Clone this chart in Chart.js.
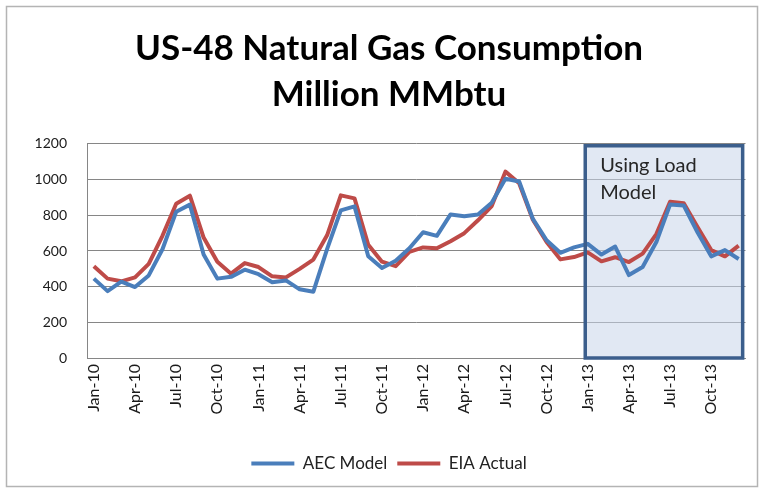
<!DOCTYPE html>
<html><head><meta charset="utf-8">
<script src="https://cdn.jsdelivr.net/npm/chart.js@4"></script>
<style>html,body{margin:0;padding:0;background:#fff}#wrap{width:764px;height:493px}</style>
</head><body><div id="wrap"><canvas id="c" width="764" height="493"></canvas></div>
<script>
const categories = [
 'Jan-10','Feb-10','Mar-10','Apr-10','May-10','Jun-10','Jul-10','Aug-10','Sep-10','Oct-10','Nov-10','Dec-10',
 'Jan-11','Feb-11','Mar-11','Apr-11','May-11','Jun-11','Jul-11','Aug-11','Sep-11','Oct-11','Nov-11','Dec-11',
 'Jan-12','Feb-12','Mar-12','Apr-12','May-12','Jun-12','Jul-12','Aug-12','Sep-12','Oct-12','Nov-12','Dec-12',
 'Jan-13','Feb-13','Mar-13','Apr-13','May-13','Jun-13','Jul-13','Aug-13','Sep-13','Oct-13','Nov-13','Dec-13'];
const aecModel = [
 445,375,428,398,463,610,820,860,580,445,455,495,
 470,425,435,385,372,610,828,850,570,505,545,615,
 705,685,805,795,805,870,1005,990,780,660,590,620,
 640,580,625,465,510,650,860,855,705,570,605,555];
const eiaActual = [
 515,445,430,452,528,685,865,910,675,540,473,532,
 510,458,452,500,552,688,912,895,635,540,515,595,
 620,615,655,700,772,852,1045,980,775,650,553,566,
 592,542,565,538,585,695,876,868,735,605,570,630];
const yMin = 0, yMax = 1200, yStep = 200;
const titleLines = ['US-48 Natural Gas Consumption', 'Million MMbtu'];
const boxText = ['Using Load', 'Model'];
const boxStartIndex = 36, boxEndIndex = 47, boxTopValue = 1190;

const frame = {
  id: 'frame',
  beforeDraw(chart) {
    const c = chart.ctx;
    c.save();
    c.fillStyle = '#fff';
    c.fillRect(0, 0, chart.width, chart.height);
    c.strokeStyle = '#b4b4b4';
    c.lineWidth = 1.5;
    c.strokeRect(6.5, 6.5, chart.width - 13, chart.height - 13);
    c.restore();
  }
};

function boxRect(chart) {
  const xs = chart.scales.x, ys = chart.scales.y;
  const l = xs.getPixelForValue(boxStartIndex) - 2.5;
  const r = xs.getPixelForValue(boxEndIndex) + 4;
  const t = ys.getPixelForValue(boxTopValue);
  const b = ys.getPixelForValue(yMin);
  return {l, r, t, b};
}

const boxPlugin = {
  id: 'loadBox',
  beforeDatasetsDraw(chart) {
    const {l, r, t, b} = boxRect(chart), c = chart.ctx;
    c.save();
    c.fillStyle = 'rgba(200,214,234,0.55)';
    c.fillRect(l, t, r - l, b - t);
    c.restore();
  },
  afterDatasetsDraw(chart) {
    const {l, r, t, b} = boxRect(chart), c = chart.ctx;
    c.save();
    c.strokeStyle = '#3B5E8C';
    c.lineWidth = 3.5;
    c.strokeRect(l, t, r - l, b - t);
    c.fillStyle = '#262626';
    c.font = '20px Lato';
    c.textAlign = 'left';
    c.textBaseline = 'alphabetic';
    c.fillText(boxText[0], l + 15, t + 26);
    c.fillText(boxText[1], l + 15, t + 53);
    c.restore();
  }
};

new Chart(document.getElementById('c'), {
  type: 'line',
  data: {
    labels: categories,
    datasets: [
      {label: 'AEC Model', data: aecModel, borderColor: '#4A7EBB', backgroundColor: '#4A7EBB',
       borderWidth: 4, pointRadius: 0, tension: 0, borderJoinStyle: 'round'},
      {label: 'EIA Actual', data: eiaActual, borderColor: '#BE4B48', backgroundColor: '#BE4B48',
       borderWidth: 4, pointRadius: 0, tension: 0, borderJoinStyle: 'round'}
    ]
  },
  options: {
    responsive: false, animation: false, devicePixelRatio: 1,
    layout: {padding: {top: 4, left: 28, right: 14, bottom: 11}},
    plugins: {
      title: {display: true, text: titleLines, color: '#000',
        font: {family: 'Lato', size: 35, weight: 'bold', lineHeight: 1.314},
        padding: {top: 22, bottom: 26}},
      legend: {position: 'bottom',
        labels: {usePointStyle: true, pointStyle: 'line', pointStyleWidth: 43, boxWidth: 43,
          font: {family: 'Lato', size: 17}, color: '#222', padding: 10}},
      tooltip: {enabled: false}
    },
    scales: {
      x: {offset: true,
        grid: {display: false, drawTicks: false},
        border: {display: true, color: '#868686'},
        ticks: {autoSkip: false, maxRotation: 90, minRotation: 90, padding: 6, color: '#1a1a1a',
          font: {family: 'Lato', size: 16},
          callback: (v, i) => (i % 3 === 0 ? categories[i] : '')},
        afterFit: (s) => { s.height = 87; }},
      y: {min: yMin, max: yMax,
        ticks: {stepSize: yStep, padding: 20, color: '#1a1a1a', font: {family: 'Lato', size: 14},
          callback: (v) => String(v)},
        grid: {color: '#868686', drawTicks: false},
        border: {display: true, color: '#868686'},
        afterFit: (s) => { s.width = 59; }}
    }
  },
  plugins: [frame, boxPlugin]
});
</script></body></html>
